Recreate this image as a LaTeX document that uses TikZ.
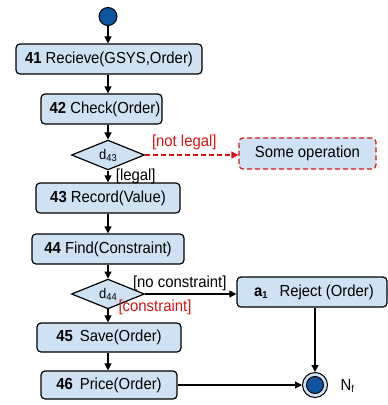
\documentclass[tikz,border=0pt]{standalone}
\usepackage{fontspec}
\setmainfont{Liberation Sans}[FakeStretch=0.93]
\usepackage{xcolor}
\usetikzlibrary{arrows.meta, shapes.geometric}

\definecolor{boxblue}{RGB}{207,226,243}
\definecolor{darkblue}{RGB}{17,85,160}
\definecolor{guardred}{RGB}{214,20,20}

\begin{document}
\begin{tikzpicture}[x=1pt, y=-1pt,
    every node/.style={font=\fontsize{16}{18}\selectfont},
    act/.style={draw, line width=1.2pt, fill=boxblue, rounded corners=4pt, inner sep=0pt},
    dec/.style={draw, line width=1.2pt, fill=boxblue, diamond, inner sep=0pt, minimum width=73pt, minimum height=23pt,
        font=\fontsize{14}{16}\selectfont},
    arr/.style={line width=1.2pt, -{Triangle[length=7pt, width=7pt]}}]
        \useasboundingbox (0,0) rectangle (388,405);

        % Start node
        \node[circle, draw, line width=1pt, fill=darkblue, minimum size=18pt, inner sep=0pt] (start) at (108,16.5) {};

        % Activities
        \node[act, minimum width=186pt, minimum height=30pt] (n41) at (109,59) {\textbf{41} Recieve(GSYS,Order)\hspace{10pt}};
        \node[act, minimum width=121pt, minimum height=30pt] (n42) at (101.5,109) {\hspace{7pt}\textbf{42} Check(Order)};

        % Decision d43
        \node[dec] (d43) at (108,155) {d\raisebox{-2pt}{\fontsize{10}{10}\selectfont 43}};
        \node[act, draw=guardred, dash pattern=on 5pt off 3pt, minimum width=137pt, minimum height=31pt] (some) at (307.5,153.5) {Some operation\hspace{16pt}};

        \node[act, minimum width=144pt, minimum height=30pt] (n43) at (108,198) {\textbf{43} Record(Value)};
        \node[act, minimum width=152pt, minimum height=30pt] (n44) at (108,249) {\textbf{44} Find(Constraint)};

        % Decision d44
        \node[dec] (d44) at (108,294) {d\raisebox{-2pt}{\fontsize{10}{10}\selectfont 44}};
        \node[act, minimum width=150pt, minimum height=30pt] (a1) at (312,292) {\hspace{4pt}\textbf{a}\raisebox{-2pt}{\fontsize{10}{10}\selectfont\textbf{1}}\hspace{12pt}Reject (Order)};

        \node[act, minimum width=144pt, minimum height=29pt] (n45) at (109,337.5) {\textbf{45}\hspace{7pt}Save(Order)};
        \node[act, minimum width=136pt, minimum height=28pt] (n46) at (109,385) {\textbf{46}\hspace{7pt}Price(Order)};

        % Final node
        \node[circle, draw, line width=1pt, fill=boxblue, minimum size=25pt, inner sep=0pt] (final) at (315,385) {};
        \node[circle, draw, line width=1pt, fill=darkblue, minimum size=17pt, inner sep=0pt] (finalin) at (final) {};
        \node[anchor=west] (nf) at (337,386) {N\raisebox{-2pt}{\fontsize{10}{10}\selectfont f}};

        % Control flow
        \draw[arr] (start) -- (start |- n41.north);
        \draw[arr] (start |- n41.south) -- (start |- n42.north);
        \draw[arr] (start |- n42.south) -- (d43.north);
        \draw[arr] (d43.south) -- (n43.north)
            node[midway, right, xshift=4pt] (legal) {[legal]};
        \draw[arr, guardred, dash pattern=on 5pt off 3pt] (d43.east) -- (d43.east -| some.west)
            node[pos=0.42, above, yshift=1pt] (notlegal) {[not legal]};
        \draw[arr] (n43) -- (n44);
        \draw[arr] (n44) -- (d44);
        \draw[arr] (d44.east) -- (d44.east -| a1.west)
            node[pos=0.38, above, yshift=-1pt] (nocons) {[no constraint]};
        \node[guardred] (cons) at (155,307) {[constraint]};
        \draw[arr] (d44.south) -- (d44.south |- n45.north);
        \draw[arr] (d44.south |- n45.south) -- (d44.south |- n46.north);
        \draw[arr] (final |- a1.south) -- (final.north);
        \draw[arr] (n46.east) -- (final.west);
\end{tikzpicture}
\end{document}
